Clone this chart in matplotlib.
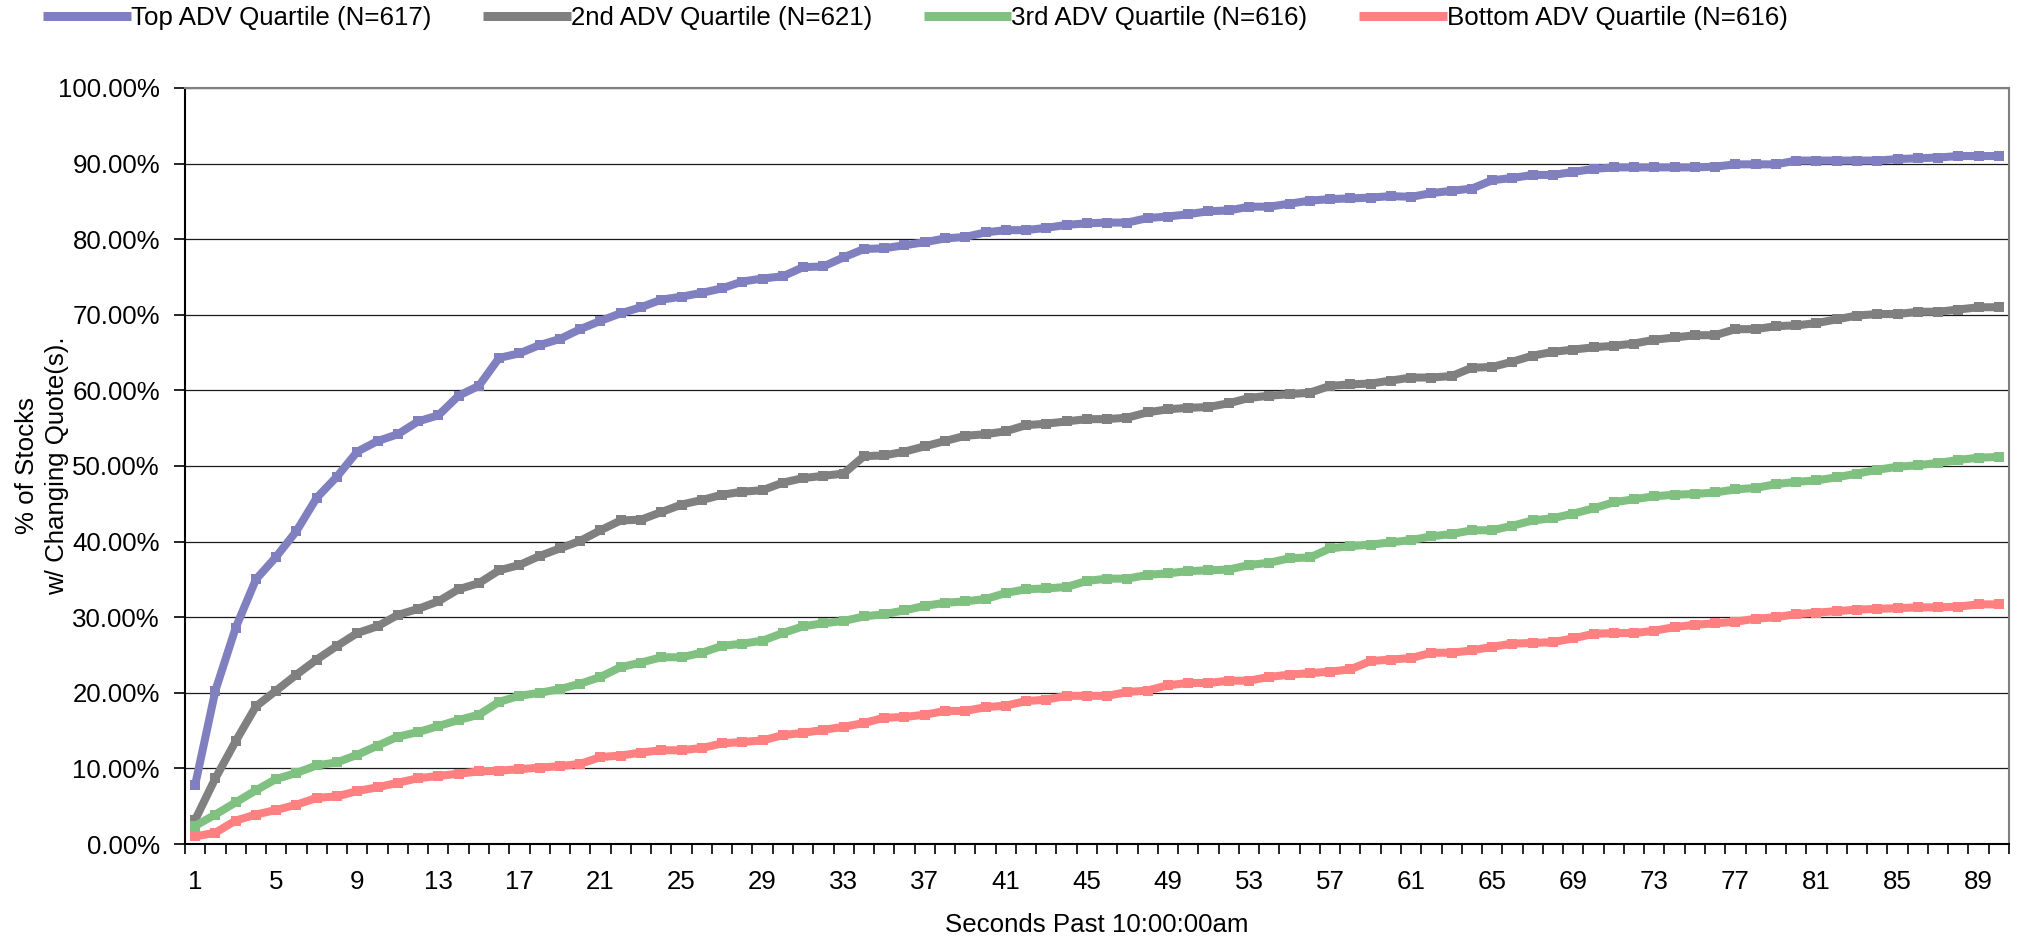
import matplotlib
matplotlib.use("Agg")
import matplotlib.pyplot as plt
from matplotlib.ticker import FuncFormatter, MultipleLocator
from matplotlib.lines import Line2D
import numpy as np

plt.rcParams['font.family'] = ['Liberation Sans', 'DejaVu Sans']

seconds = np.arange(1, 91)

top_q = [7.8, 20.3, 28.6, 35.0, 38.0, 41.4, 45.8, 48.6, 51.9, 53.3,
         54.2, 55.9, 56.7, 59.3, 60.6, 64.3, 64.9, 66.0, 66.8, 68.1,
         69.2, 70.2, 71.0, 72.0, 72.4, 72.9, 73.5, 74.4, 74.8, 75.1,
         76.3, 76.4, 77.6, 78.7, 78.8, 79.2, 79.6, 80.1, 80.3, 80.9,
         81.2, 81.2, 81.5, 81.9, 82.1, 82.2, 82.2, 82.8, 83.0, 83.3,
         83.7, 83.8, 84.3, 84.3, 84.7, 85.1, 85.3, 85.4, 85.5, 85.7,
         85.6, 86.1, 86.4, 86.7, 87.8, 88.1, 88.5, 88.5, 88.9, 89.3,
         89.5, 89.5, 89.5, 89.5, 89.5, 89.6, 89.9, 89.9, 89.9, 90.4,
         90.4, 90.4, 90.4, 90.4, 90.6, 90.7, 90.8, 91.0, 91.0, 91.0]

second_q = [3.2, 8.7, 13.6, 18.2, 20.3, 22.4, 24.4, 26.2, 27.9, 28.8,
            30.3, 31.1, 32.1, 33.7, 34.5, 36.2, 36.9, 38.1, 39.1, 40.1,
            41.5, 42.8, 42.9, 43.9, 44.9, 45.5, 46.2, 46.6, 46.8, 47.8,
            48.4, 48.7, 49.0, 51.3, 51.4, 51.9, 52.6, 53.3, 54.0, 54.2,
            54.6, 55.4, 55.6, 55.9, 56.2, 56.2, 56.4, 57.1, 57.5, 57.7,
            57.8, 58.3, 59.0, 59.3, 59.5, 59.7, 60.6, 60.8, 60.9, 61.3,
            61.7, 61.7, 61.9, 63.0, 63.1, 63.8, 64.6, 65.1, 65.4, 65.7,
            65.9, 66.2, 66.7, 67.0, 67.3, 67.3, 68.1, 68.1, 68.5, 68.6,
            68.9, 69.4, 69.9, 70.1, 70.1, 70.4, 70.4, 70.7, 71.0, 71.0]

third_q = [2.4, 3.9, 5.5, 7.1, 8.6, 9.4, 10.4, 10.8, 11.8, 13.0,
           14.2, 14.8, 15.6, 16.4, 17.1, 18.8, 19.6, 20.0, 20.5, 21.2,
           22.1, 23.4, 24.0, 24.7, 24.7, 25.3, 26.2, 26.5, 26.9, 27.9,
           28.8, 29.2, 29.5, 30.1, 30.4, 30.9, 31.5, 31.9, 32.1, 32.4,
           33.2, 33.7, 33.8, 34.0, 34.8, 35.1, 35.1, 35.6, 35.8, 36.1,
           36.2, 36.3, 36.9, 37.2, 37.8, 37.9, 39.1, 39.4, 39.6, 39.9,
           40.2, 40.7, 41.0, 41.5, 41.5, 42.1, 42.8, 43.1, 43.7, 44.4,
           45.2, 45.6, 46.0, 46.2, 46.3, 46.5, 46.9, 47.1, 47.6, 47.9,
           48.1, 48.5, 49.0, 49.5, 49.9, 50.1, 50.4, 50.8, 51.1, 51.2]

bottom_q = [1.0, 1.5, 3.1, 3.9, 4.5, 5.2, 6.1, 6.3, 7.0, 7.5,
            8.1, 8.7, 9.0, 9.3, 9.6, 9.7, 9.9, 10.1, 10.3, 10.6,
            11.5, 11.7, 12.1, 12.4, 12.4, 12.7, 13.3, 13.5, 13.7, 14.4,
            14.7, 15.1, 15.5, 16.0, 16.7, 16.8, 17.1, 17.6, 17.6, 18.1,
            18.3, 18.9, 19.1, 19.6, 19.6, 19.6, 20.1, 20.3, 21.0, 21.3,
            21.3, 21.6, 21.6, 22.1, 22.4, 22.6, 22.8, 23.1, 24.2, 24.4,
            24.6, 25.3, 25.3, 25.6, 26.1, 26.5, 26.6, 26.7, 27.2, 27.8,
            27.9, 27.9, 28.2, 28.7, 29.0, 29.2, 29.4, 29.8, 30.0, 30.4,
            30.6, 30.8, 31.0, 31.1, 31.2, 31.3, 31.3, 31.4, 31.7, 31.7]

labels = ['Top ADV Quartile (N=617)', '2nd ADV Quartile (N=621)',
          '3rd ADV Quartile (N=616)', 'Bottom ADV Quartile (N=616)']
colors = ['#8080C0', '#808080', '#80C080', '#FF8080']

fig = plt.figure(figsize=(20.23, 9.4), dpi=100)
ax = fig.add_axes([185 / 2023, 1 - 844 / 940, (2009 - 185) / 2023, (844 - 88) / 940])

handles = []
for vals, lab, col in zip([top_q, second_q, third_q, bottom_q], labels, colors):
    ax.plot(seconds, vals, color=col, lw=5.8, marker='s', markersize=7.5,
            markeredgewidth=0, solid_joinstyle='miter')
    handles.append(Line2D([], [], color=col, lw=6.5, solid_capstyle='butt', label=lab))

ax.set_xlim(0.5, 90.5)
ax.set_ylim(0, 100)

ax.yaxis.set_major_locator(MultipleLocator(10))
ax.yaxis.set_major_formatter(FuncFormatter(lambda v, p: '%.2f%%' % v))
ax.set_xticks(np.arange(1, 91, 4))
ax.set_xticks(np.arange(0.5, 91, 1), minor=True)
ax.tick_params(axis='x', which='major', length=0, pad=19, labelsize=18.6)
ax.tick_params(axis='x', which='minor', length=7, width=1.2, direction='out')
ax.tick_params(axis='y', length=8, width=1.2, direction='out', pad=10, labelsize=18.6)

ax.grid(axis='y', color='#1a1a1a', lw=0.9)
ax.set_axisbelow(True)
for s in ['left', 'bottom']:
    ax.spines[s].set_color('black')
    ax.spines[s].set_linewidth(1.5)
for s in ['top', 'right']:
    ax.spines[s].set_color('#808080')
    ax.spines[s].set_linewidth(1.5)

fig.text(42 / 2023, 1 - 466 / 940, '% of Stocks\nw/ Changing Quote(s).', rotation=90,
         ha='center', va='center', fontsize=18.6, multialignment='center', linespacing=1.35)
fig.text(1097 / 2023, 1 - 925 / 940, 'Seconds Past 10:00:00am', ha='center', va='center',
         fontsize=18.6)

fig.legend(handles=handles, loc='center left', bbox_to_anchor=(43 / 2023, 1 - 18 / 940),
           ncol=4, frameon=False, fontsize=18.6, handlelength=3.4, handletextpad=0.0,
           columnspacing=2.0, borderaxespad=0, borderpad=0)

fig.savefig('out.png', dpi=100, facecolor='white')
